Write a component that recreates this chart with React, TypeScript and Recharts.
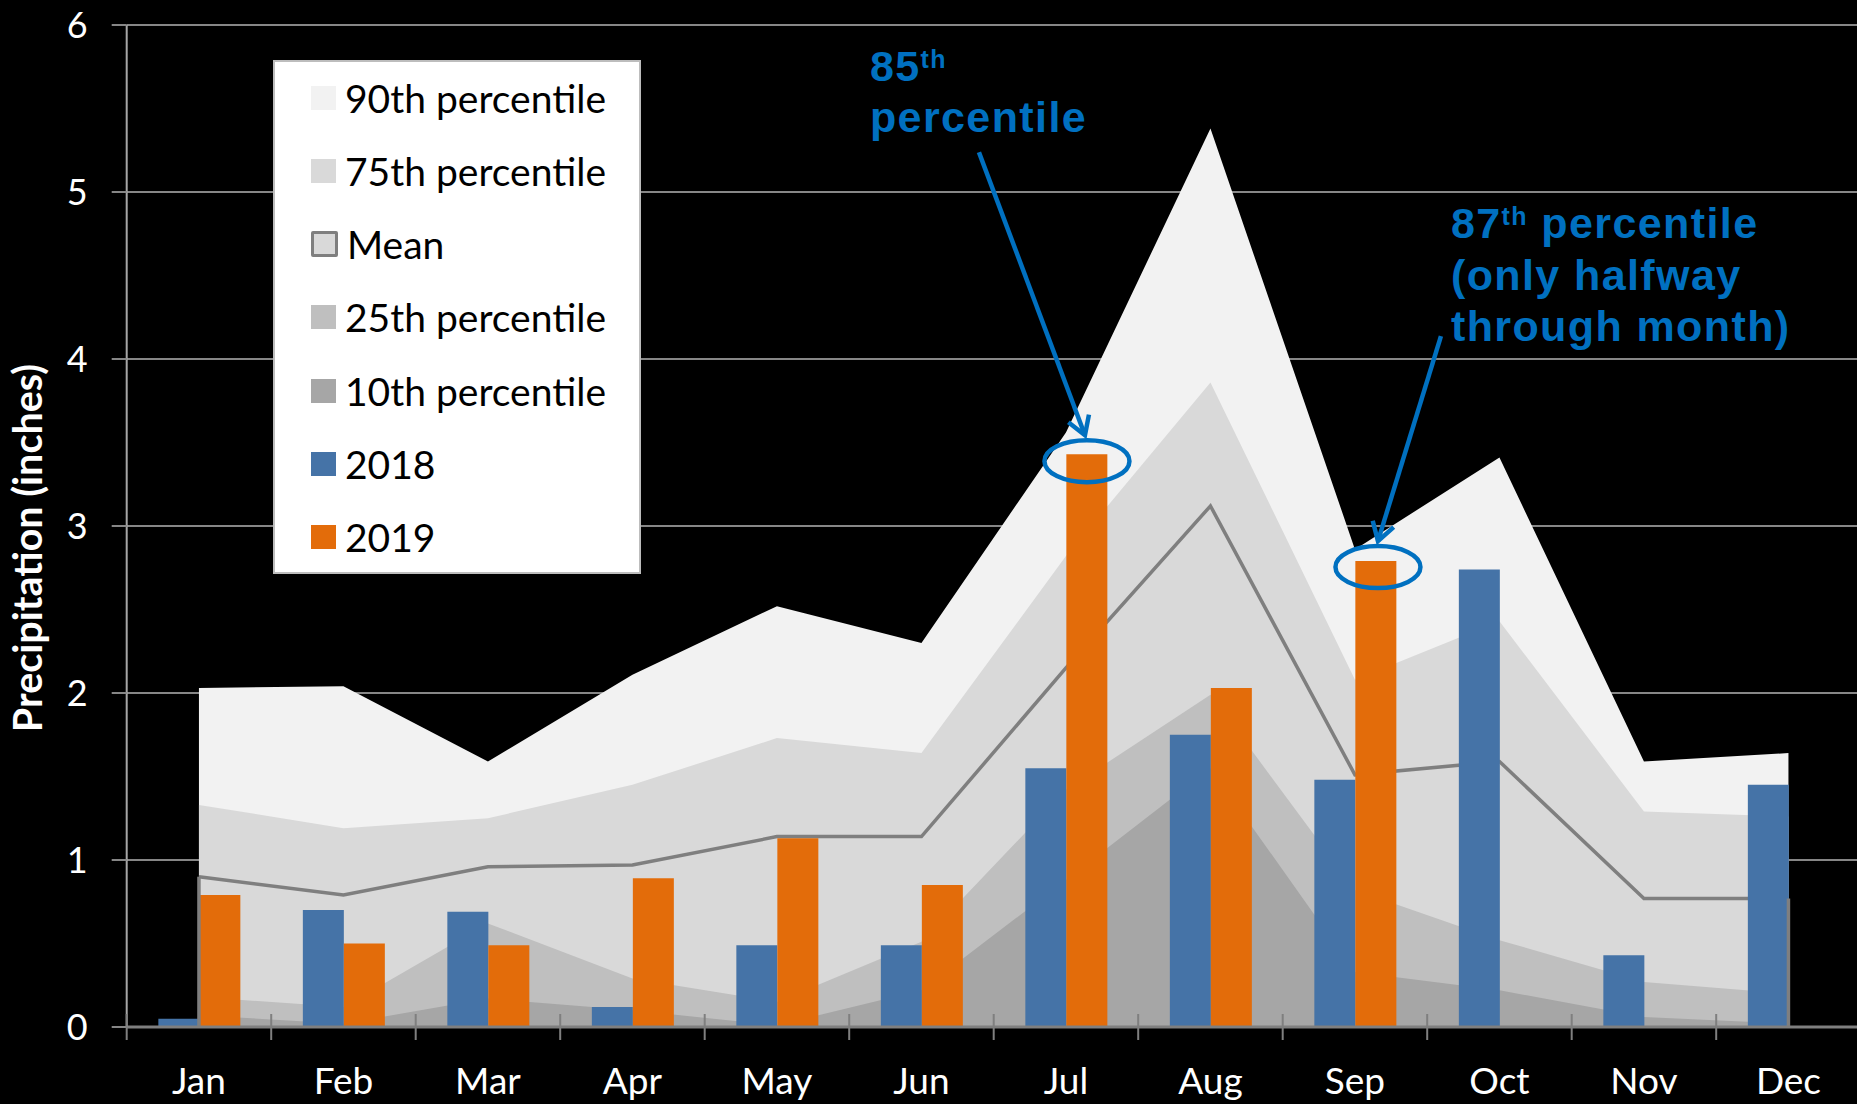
import React from "react";
import {
  ComposedChart,
  Area,
  Bar,
  XAxis,
  YAxis,
  CartesianGrid,
  Legend,
  ReferenceLine,
  ReferenceDot,
} from "recharts";

const MONTHS = ["Jan", "Feb", "Mar", "Apr", "May", "Jun", "Jul", "Aug", "Sep", "Oct", "Nov", "Dec"];
const P90 = [2.03, 2.04, 1.59, 2.11, 2.52, 2.3, 3.56, 5.38, 2.86, 3.41, 1.59, 1.64];
const P75 = [1.33, 1.19, 1.25, 1.45, 1.73, 1.64, 2.82, 3.86, 2.08, 2.43, 1.29, 1.26];
const MEAN = [0.9, 0.79, 0.96, 0.97, 1.14, 1.14, 2.15, 3.12, 1.51, 1.59, 0.77, 0.77];
const P25 = [0.18, 0.12, 0.62, 0.29, 0.15, 0.51, 1.42, 1.99, 0.82, 0.52, 0.27, 0.2];
const P10 = [0.07, 0.02, 0.17, 0.1, 0.01, 0.22, 0.88, 1.55, 0.33, 0.22, 0.06, 0.02];
const Y2018 = [0.05, 0.7, 0.69, 0.12, 0.49, 0.49, 1.55, 1.75, 1.48, 2.74, 0.43, 1.45];
const Y2019 = [0.79, 0.5, 0.49, 0.89, 1.13, 0.85, 3.43, 2.03, 2.79, null, null, null];
const Y_TICKS = [0, 1, 2, 3, 4, 5, 6];

const LEGEND_ITEMS = [
  { name: "90th percentile", fill: "#f2f2f2" },
  { name: "75th percentile", fill: "#d9d9d9" },
  { name: "Mean", fill: "#d9d9d9", stroke: "#7f7f7f" },
  { name: "25th percentile", fill: "#bfbfbf" },
  { name: "10th percentile", fill: "#a6a6a6" },
  { name: "2018", fill: "#4573a7" },
  { name: "2019", fill: "#e36c0a" },
];

const data = MONTHS.map((m, i) => ({
  month: m,
  p90: P90[i],
  p75: P75[i],
  mean: MEAN[i],
  p25: P25[i],
  p10: P10[i],
  y2018: Y2018[i],
  y2019: Y2019[i],
}));

const W = 1862;
const H = 1104;
const Y_AXIS_W = 126.7;
const RIGHT = 1.3;
const X_AXIS_H = 77;
const BAND = (W - Y_AXIS_W - RIGHT) / MONTHS.length;

const FONT = "Lato, 'Open Sans', sans-serif";
const NOTE_FONT = "'Liberation Sans', Arial, sans-serif";
const BLUE = "#0070c0";

function MonthTick(props: any) {
  const { x, y, payload } = props;
  const bx = x - BAND / 2;
  return (
    <g>
      <line x1={bx} x2={bx} y1={y - 13} y2={y + 13} stroke="#7f7f7f" strokeWidth={2} />
      <text x={x} y={y + 67} textAnchor="middle" fill="#fff" fontSize={37} fontFamily={FONT}>
        {payload.value}
      </text>
    </g>
  );
}

function Arrow({ x1, y1, x2, y2 }: { x1: number; y1: number; x2: number; y2: number }) {
  const a = Math.atan2(y2 - y1, x2 - x1);
  const len = 21;
  const s = 0.55;
  const l = [x2 - len * Math.cos(a - s), y2 - len * Math.sin(a - s)];
  const r = [x2 - len * Math.cos(a + s), y2 - len * Math.sin(a + s)];
  return (
    <g stroke={BLUE} strokeWidth={4.5} fill="none">
      <line x1={x1} y1={y1} x2={x2} y2={y2} />
      <polyline points={`${l[0]},${l[1]} ${x2},${y2} ${r[0]},${r[1]}`} />
    </g>
  );
}

function JulNote(props: any) {
  const { cx, cy } = props;
  return (
    <g>
      <ellipse cx={cx + 21} cy={cy + 7} rx={42.5} ry={21} fill="none" stroke={BLUE} strokeWidth={4.5} />
      <Arrow x1={cx - 87} y1={cy - 302} x2={cx + 19} y2={cy - 19} />
      <text fill={BLUE} fontFamily={NOTE_FONT} fontWeight="bold" fontSize={43} letterSpacing={1.4}>
        <tspan x={cx - 196} y={cy - 373}>85</tspan>
        <tspan fontSize={25} dy={-13}>th</tspan>
        <tspan x={cx - 196} y={cy - 322}>percentile</tspan>
      </text>
    </g>
  );
}

function SepNote(props: any) {
  const { cx, cy } = props;
  return (
    <g>
      <ellipse cx={cx + 23} cy={cy + 6} rx={42.5} ry={21} fill="none" stroke={BLUE} strokeWidth={4.5} />
      <Arrow x1={cx + 86} y1={cy - 225} x2={cx + 23} y2={cy - 20} />
      <text fill={BLUE} fontFamily={NOTE_FONT} fontWeight="bold" fontSize={43} letterSpacing={1.4}>
        <tspan x={cx + 96} y={cy - 323}>87</tspan>
        <tspan fontSize={25} dy={-13}>th</tspan>
        <tspan dy={13}> percentile</tspan>
        <tspan x={cx + 96} y={cy - 271}>(only halfway</tspan>
        <tspan x={cx + 96} y={cy - 220}>through month)</tspan>
      </text>
    </g>
  );
}

function LegendBox() {
  return (
    <div
      style={{
        position: "relative",
        width: 368,
        height: 514,
        background: "#fff",
        border: "2px solid #bdbdbd",
        boxSizing: "border-box",
        fontFamily: FONT,
      }}
    >
      {LEGEND_ITEMS.map((it, i) => (
        <div
          key={it.name}
          style={{
            position: "absolute",
            left: 36,
            top: 35.5 + i * 73.3 - 24,
            height: 48,
            display: "flex",
            alignItems: "center",
            whiteSpace: "nowrap",
          }}
        >
          <span
            style={{
              display: "inline-block",
              width: it.stroke ? 21 : 25,
              height: it.stroke ? 20 : 24,
              background: it.fill,
              border: it.stroke ? `3px solid ${it.stroke}` : "none",
              borderRadius: it.stroke ? 2 : 0,
              marginRight: 9,
            }}
          />
          <span style={{ fontSize: 39, color: "#000", lineHeight: "48px" }}>{it.name}</span>
        </div>
      ))}
    </div>
  );
}

export default function App() {
  return (
    <div
      style={{
        position: "absolute",
        left: 0,
        top: 0,
        width: 1857,
        height: H,
        overflow: "hidden",
        background: "#000",
      }}
    >
      <ComposedChart
        width={W}
        height={H}
        data={data}
        margin={{ top: 25, right: RIGHT, bottom: 0, left: 0 }}
        barCategoryGap="21.9%"
        barGap={0}
      >
        <CartesianGrid vertical={false} stroke="#868686" strokeWidth={2} />
        <Area dataKey="p90" type="linear" fill="#f2f2f2" fillOpacity={1} stroke="none" dot={false} activeDot={false} isAnimationActive={false} />
        <Area dataKey="p75" type="linear" fill="#d9d9d9" fillOpacity={1} stroke="none" dot={false} activeDot={false} isAnimationActive={false} />
        <Area dataKey="mean" type="linear" fill="#d9d9d9" fillOpacity={1} stroke="#7f7f7f" strokeWidth={3.5} dot={false} activeDot={false} isAnimationActive={false} />
        <Area dataKey="p25" type="linear" fill="#bfbfbf" fillOpacity={1} stroke="none" dot={false} activeDot={false} isAnimationActive={false} />
        <Area dataKey="p10" type="linear" fill="#a6a6a6" fillOpacity={1} stroke="none" dot={false} activeDot={false} isAnimationActive={false} />
        <ReferenceLine
          segment={[{ x: MONTHS[0], y: 0 }, { x: MONTHS[0], y: MEAN[0] }]}
          stroke="#7f7f7f"
          strokeWidth={3.5}
        />
        <ReferenceLine
          segment={[{ x: MONTHS[11], y: 0 }, { x: MONTHS[11], y: MEAN[11] }]}
          stroke="#7f7f7f"
          strokeWidth={3.5}
        />
        <Bar dataKey="y2018" fill="#4573a7" isAnimationActive={false} />
        <Bar dataKey="y2019" fill="#e36c0a" isAnimationActive={false} />
        <XAxis
          dataKey="month"
          height={X_AXIS_H}
          axisLine={{ stroke: "#7f7f7f", strokeWidth: 3 }}
          tickLine={false}
          tickSize={0}
          tickMargin={0}
          interval={0}
          tick={<MonthTick />}
        />
        <YAxis
          width={Y_AXIS_W}
          domain={[0, 6]}
          ticks={Y_TICKS}
          interval={0}
          axisLine={{ stroke: "#a6a6a6", strokeWidth: 2 }}
          tickLine={{ stroke: "#868686", strokeWidth: 2 }}
          tickSize={15}
          tickMargin={24}
          tick={{ fill: "#fff", fontSize: 36, fontFamily: FONT }}
        />
        <ReferenceDot x="Jul" y={Y2019[6] as number} shape={<JulNote />} />
        <ReferenceDot x="Sep" y={Y2019[8] as number} shape={<SepNote />} />
        <Legend
          layout="vertical"
          align="center"
          verticalAlign="middle"
          content={<LegendBox />}
          wrapperStyle={{ left: 273, top: 60, width: 368, height: 514 }}
        />
        <text
          x={42}
          y={548}
          transform="rotate(-90 42 548)"
          textAnchor="middle"
          fill="#fff"
          fontSize={39.5}
          fontWeight="bold"
          fontFamily={FONT}
        >
          Precipitation (inches)
        </text>
      </ComposedChart>
    </div>
  );
}
